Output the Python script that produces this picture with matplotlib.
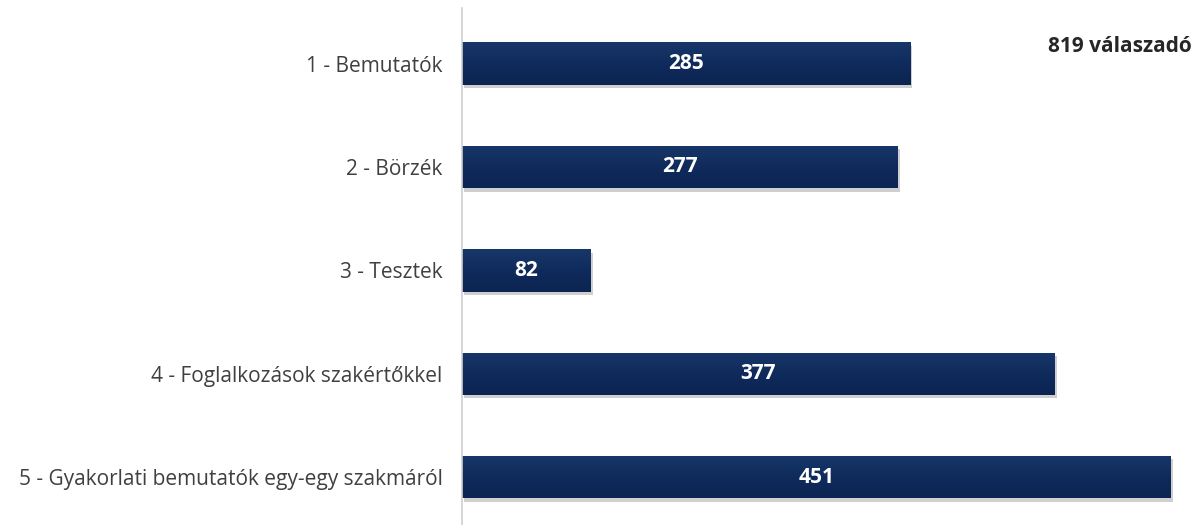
import matplotlib
matplotlib.use("Agg")
import matplotlib.pyplot as plt
import matplotlib.patheffects as pe
import numpy as np
from matplotlib.colors import LinearSegmentedColormap

categories = [
    "1 - Bemutatók",
    "2 - Börzék",
    "3 - Tesztek",
    "4 - Foglalkozások szakértőkkel",
    "5 - Gyakorlati bemutatók egy-egy szakmáról",
]
values = [285, 277, 82, 377, 451]
note = "819 válaszadó"

plt.rcParams['font.family'] = ['Open Sans', 'DejaVu Sans']

fig = plt.figure(figsize=(11.98, 5.25), dpi=100)
ax = fig.add_axes([462/1198, 0, (1198-462)/1198, 517/525])

ypos = list(range(len(categories)))
bars = ax.barh(ypos, values, height=0.41, color="#0f2b5c", edgecolor="none",
               path_effects=[pe.SimplePatchShadow(offset=(1.5, -2.5), alpha=0.35,
                                                  shadow_rgbFace="#777777"), pe.Normal()])

cmap = LinearSegmentedColormap.from_list("navy", ["#173768", "#0f2b5c", "#0c2452"])
grad = np.linspace(0, 1, 64).reshape(-1, 1)
for b in bars:
    x0, y0, w, h = b.get_x(), b.get_y(), b.get_width(), b.get_height()
    im = ax.imshow(grad, cmap=cmap, aspect="auto", extent=(x0, x0 + w, y0 + h, y0),
                   origin="upper", zorder=b.get_zorder() + 0.1, interpolation="bilinear")
    im.set_clip_path(b)

for y, v in zip(ypos, values):
    ax.text(v / 2, y, str(v), ha="center", va="center", color="white",
            fontsize=15, fontweight="bold", zorder=5)

ax.set_xlim(0, 468.2)
ax.set_ylim(4.463, -0.537)
ax.set_yticks(ypos)
ax.set_yticklabels(categories, fontsize=15, color="#404040")
ax.tick_params(axis="y", length=0, pad=14)
ax.set_xticks([])
for s in ["top", "right", "bottom"]:
    ax.spines[s].set_visible(False)
ax.spines["left"].set_color("#d0d0d0")
ax.spines["left"].set_linewidth(1.2)

fig.text(1192/1198, 1 - 47/525, note, ha="right", va="center", fontsize=15,
         fontweight="bold", color="#262626")

fig.savefig("out.png", dpi=100, facecolor="white")
